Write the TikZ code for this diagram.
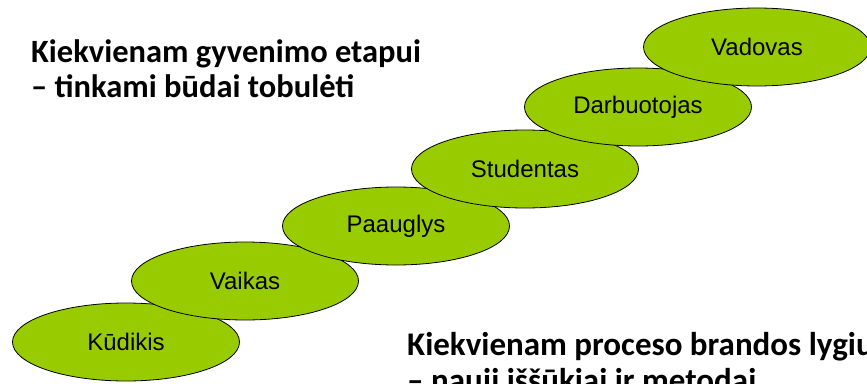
\documentclass[tikz,border=0pt]{standalone}
\usepackage{fontspec}
\setmainfont{Carlito}
\newfontfamily\arialfont{Liberation Sans}
\usetikzlibrary{shapes.geometric,positioning}
\definecolor{leaf}{RGB}{153,204,0}

\begin{document}
\begin{tikzpicture}[x=1pt,y=-1pt,on grid,
	stage/.style={ellipse,draw=black,line width=0.8pt,fill=leaf,inner sep=0pt,
		minimum width=227pt,minimum height=78pt,
		font=\arialfont\fontsize{24}{28}\selectfont},
	heading/.style={anchor=north west,inner sep=0pt,align=left,font=\bfseries}]
	\clip (0,0) rectangle (867,383);
	\fill[white] (0,0) rectangle (867,383);
	\node[stage] (e_1) at (126,342) {Kūdikis};
	\node[stage] (e_2) [above right=61pt and 119pt of e_1] {Vaikas};
	\node[stage] (e_3) [above right=55pt and 151pt of e_2] {Paauglys};
	\node[stage] (e_4) [above right=57pt and 129pt of e_3] {Studentas};
	\node[stage] (e_5) [above right=62pt and 113pt of e_4] {Darbuotojas};
	\node[stage] (e_6) [above right=60pt and 119pt of e_5] {Vadovas};
	%\node[stage] (e_7) [above right=of e_6] {};
	\node[heading,font=\bfseries\fontsize{32.5}{35}\selectfont] (t_1) at (31,39)
		{Kiekvienam gyvenimo etapui\\– tinkami būdai tobulėti};
	\node[heading,font=\bfseries\fontsize{33}{36}\selectfont] (t_2) at (407,332)
		{Kiekvienam proceso brandos lygiu\\– nauji iššūkiai ir metodai};
\end{tikzpicture}
\end{document}
